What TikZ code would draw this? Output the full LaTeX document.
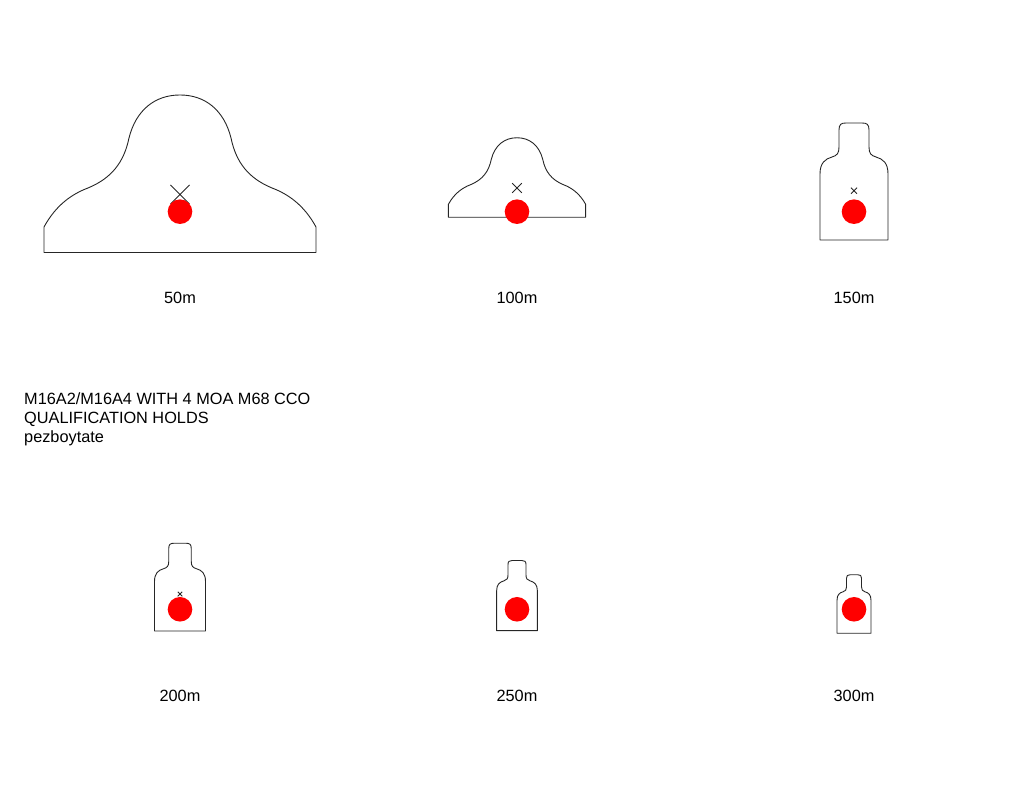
\documentclass[tikz,border=0pt]{standalone}
\usepackage{fontspec}
\setmainfont{Liberation Sans}
\usepackage{tikz}
\usetikzlibrary{positioning}

\tikzset{
  outline/.style={draw=black!85, line width=0.9pt, line join=round},
  aimx/.style={draw=black!85, line width=0.9pt},
  hold/.style={fill=red},
  distlabel/.style={font=\fontsize{16.3}{19}\selectfont, inner sep=0pt, anchor=base},
  titletext/.style={font=\fontsize{16.3}{19}\selectfont, inner sep=0pt, anchor=base west},
  % wide silhouette for the near ranges
  hump/.pic={
    \draw[outline] (-136,0) -- (-136,25.5) .. controls (-124,47.5) and (-108,58.5) .. (-92,64.5)
      .. controls (-68,74.5) and (-56,90.5) .. (-51,114.5)
      .. controls (-44,142.5) and (-25,157.5) .. (0,157.5)
      .. controls (25,157.5) and (44,142.5) .. (51,114.5)
      .. controls (56,90.5) and (68,74.5) .. (92,64.5)
      .. controls (108,58.5) and (124,47.5) .. (136,25.5) -- (136,0) -- cycle;
    \draw[aimx] (-9.5,48.5) -- (9.5,67.5) (-9.5,67.5) -- (9.5,48.5);
  },
  % torso silhouette for the far ranges
  torso/.pic={
    \draw[outline] (-34,0) -- (-34,66) .. controls (-34,77) and (-29,81) .. (-22,83)
      .. controls (-17,84.5) and (-15,86.5) .. (-15,93) -- (-15,110)
      .. controls (-15,115.5) and (-13,117) .. (-8,117) -- (8,117)
      .. controls (13,117) and (15,115.5) .. (15,110) -- (15,93)
      .. controls (15,86.5) and (17,84.5) .. (22,83)
      .. controls (29,81) and (34,77) .. (34,66) -- (34,0) -- cycle;
    \draw[aimx] (-3,46.3) -- (3,52.3) (-3,52.3) -- (3,46.3);
  }
}

\begin{document}
\begin{tikzpicture}[x=1pt,y=1pt]
\useasboundingbox (0,0) rectangle (1024,791);
% targets, top row
\pic at (180,538.5) {hump};
\pic[scale=0.505] at (517,573.7) {hump};
\pic at (854,551) {torso};
% targets, bottom row
\pic[scale=0.75] at (180,160) {torso};
\pic[scale=0.6] at (517,160.3) {torso};
\pic[scale=0.5] at (854,157.7) {torso};
% holds
\foreach \x/\y in {180/579.3,517/579.3,854/579.3,180/181.7,517/181.7,854/181.7} {
\fill[hold] (\x,\y) circle[radius=12.3pt];
}
% range labels
\foreach \x/\y/\d in {180/487/50,517/487/100,854/487/150,180/89/200,517/89/250,854/89/300} {
\node[distlabel] (lbl\d) at (\x,\y) {\d m};
}
% title
\node[titletext] (title1) at (24,386) {M16A2/M16A4 WITH 4 MOA M68 CCO};
\node[titletext] (title2) at (24,367) {QUALIFICATION HOLDS};
\node[titletext] (title3) at (24,348) {pezboytate};
\end{tikzpicture}
\end{document}
